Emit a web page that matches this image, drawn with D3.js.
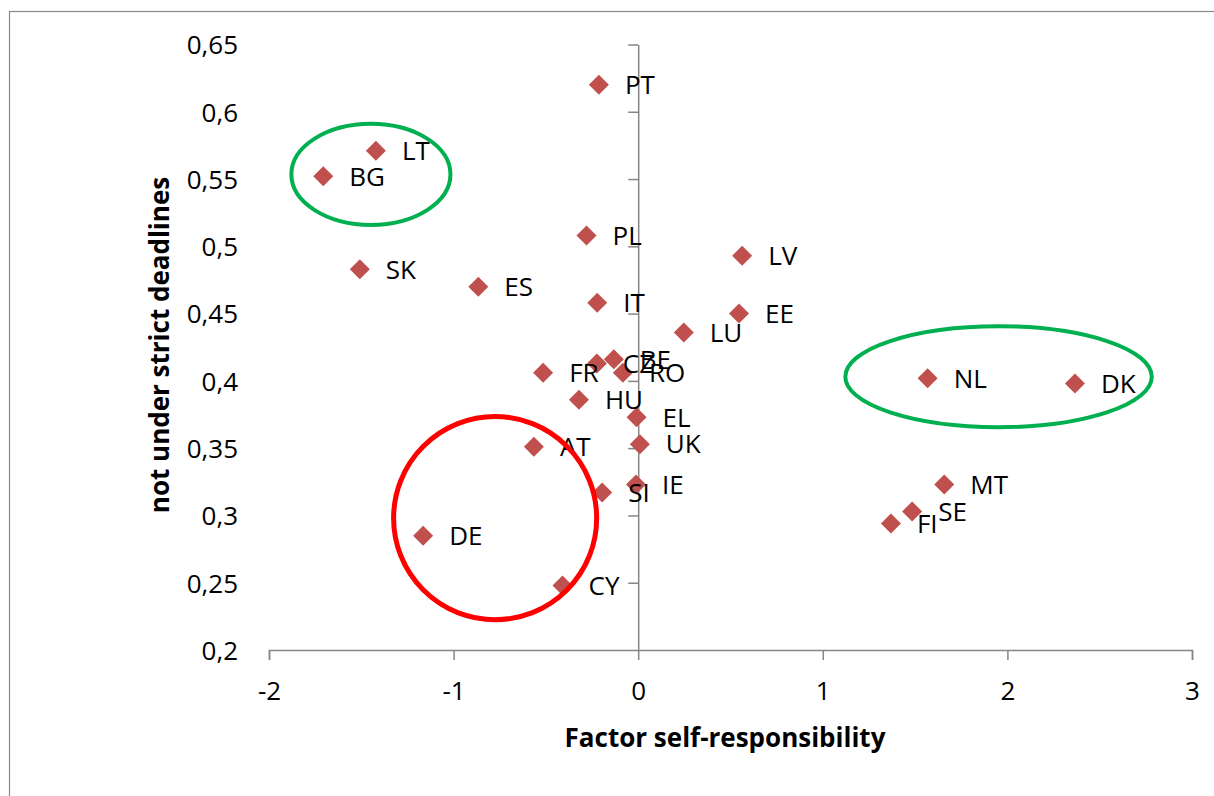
<!DOCTYPE html>
<html>
<head>
<meta charset="utf-8">
<script src="https://cdn.jsdelivr.net/npm/d3@7"></script>
<style>
  body { margin: 0; background: #fff; }
  .chart text { font-family: "Open Sans", Lato, sans-serif; fill: #000; }
  .axis line, .axis path { stroke: #868686; stroke-width: 1.5; fill: none; }
</style>
</head>
<body>
<div class="chart"></div>
<script>
// countries and their scores
var countries = ["PT", "LT", "BG", "SK", "ES", "PL", "IT", "LV", "EE", "LU",
  "CZ", "BE", "RO", "FR", "HU", "EL", "UK", "AT", "IE", "SI",
  "DE", "CY", "NL", "DK", "MT", "SE", "FI"];
var selfResponsibility = [-0.213, -1.421, -1.706, -1.508, -0.866, -0.280, -0.222, 0.563, 0.546, 0.247,
  -0.224, -0.132, -0.083, -0.515, -0.321, -0.009, 0.009, -0.565, -0.012, -0.195,
  -1.165, -0.410, 1.568, 2.366, 1.658, 1.484, 1.369];
var notStrictDeadlines = [0.620, 0.571, 0.552, 0.483, 0.470, 0.508, 0.458, 0.493, 0.450, 0.436,
  0.413, 0.416, 0.406, 0.406, 0.386, 0.373, 0.353, 0.351, 0.323, 0.317,
  0.285, 0.248, 0.402, 0.398, 0.323, 0.303, 0.294];

var xTicks = [-2, -1, 0, 1, 2, 3];
var xTickLabels = ["-2", "-1", "0", "1", "2", "3"];
var yTicks = [0.2, 0.25, 0.3, 0.35, 0.4, 0.45, 0.5, 0.55, 0.6, 0.65];
var yTickLabels = ["0,2", "0,25", "0,3", "0,35", "0,4", "0,45", "0,5", "0,55", "0,6", "0,65"];

// highlighted groups (data units)
var groupCx = [-1.448, 1.952, -0.775];
var groupCy = [0.5535, 0.4031, 0.298];
var groupRx = [0.431, 0.830, 0.550];
var groupRy = [0.0376, 0.0375, 0.0755];
var groupColor = ["#00B050", "#00B050", "#FF0000"];

(function() {
  var width = 1214, height = 796;
  var plot = { left: 269, right: 1192, top: 44.5, bottom: 650 };
  var fontSize = "26px";

  var svg = d3.select(".chart").append("svg")
    .attr("width", width)
    .attr("height", height);

  svg.append("rect")
    .attr("x", 9.5).attr("y", 11.5)
    .attr("width", width + 20).attr("height", height + 20)
    .attr("fill", "#fff")
    .attr("stroke", "#898989")
    .attr("stroke-width", 1.2);

  var x = d3.scaleLinear().domain([-2, 3]).range([plot.left, plot.right]);
  var y = d3.scaleLinear().domain([0.2, 0.65]).range([plot.bottom, plot.top]);

  // x axis at y = 0.2
  var gx = svg.append("g").attr("class", "axis x")
    .attr("transform", "translate(0," + y(0.2) + ")")
    .call(d3.axisBottom(x).tickValues(xTicks).tickSize(10).tickSizeOuter(10)
      .tickFormat(function(d, i) { return xTickLabels[i]; }));
  gx.selectAll("text")
    .attr("y", 41)
    .attr("dy", "0.36em")
    .style("font-size", fontSize);

  // y axis crossing at x = 0, labels kept at the left of the plot
  var gy = svg.append("g").attr("class", "axis y")
    .attr("transform", "translate(" + x(0) + ",0)")
    .call(d3.axisLeft(y).tickValues(yTicks).tickSize(10).tickSizeOuter(0)
      .tickFormat(function(d, i) { return yTickLabels[i]; }));
  gy.selectAll("text")
    .attr("x", x(-2) - 31 - x(0))
    .attr("dy", "0.36em")
    .style("font-size", fontSize);
  gy.selectAll(".tick line").filter(function(d) { return d === 0.2; }).remove();

  // points
  var pts = countries.map(function(c, i) {
    return { name: c, x: selfResponsibility[i], y: notStrictDeadlines[i] };
  });
  var square = d3.symbol().type(d3.symbolSquare).size(200);
  svg.append("g").selectAll("path")
    .data(pts)
    .enter().append("path")
      .attr("d", square)
      .attr("fill", "#C0504D")
      .attr("transform", function(d) { return "translate(" + x(d.x) + "," + y(d.y) + ") rotate(45)"; });

  svg.append("g").selectAll("text")
    .data(pts)
    .enter().append("text")
      .attr("x", function(d) { return x(d.x) + 26; })
      .attr("y", function(d) { return y(d.y); })
      .attr("dy", "0.36em")
      .style("font-size", fontSize)
      .text(function(d) { return d.name; });

  // circled groups
  svg.append("g").selectAll("ellipse")
    .data(groupCx)
    .enter().append("ellipse")
      .attr("cx", function(d, i) { return x(groupCx[i]); })
      .attr("cy", function(d, i) { return y(groupCy[i]); })
      .attr("rx", function(d, i) { return x(groupRx[i]) - x(0); })
      .attr("ry", function(d, i) { return y(0) - y(groupRy[i]); })
      .attr("fill", "none")
      .attr("stroke", function(d, i) { return groupColor[i]; })
      .attr("stroke-width", function(d, i) { return i === 2 ? 5 : 4; });

  // axis titles
  svg.append("text")
    .attr("x", 725)
    .attr("y", 738)
    .attr("dy", "0.36em")
    .attr("text-anchor", "middle")
    .style("font-size", fontSize)
    .style("font-weight", "bold")
    .text("Factor self-responsibility");

  svg.append("text")
    .attr("transform", "translate(160,345) rotate(-90)")
    .attr("dy", "0.36em")
    .attr("text-anchor", "middle")
    .style("font-size", fontSize)
    .style("font-weight", "bold")
    .text("not under strict deadlines");
})();
</script>
</body>
</html>
